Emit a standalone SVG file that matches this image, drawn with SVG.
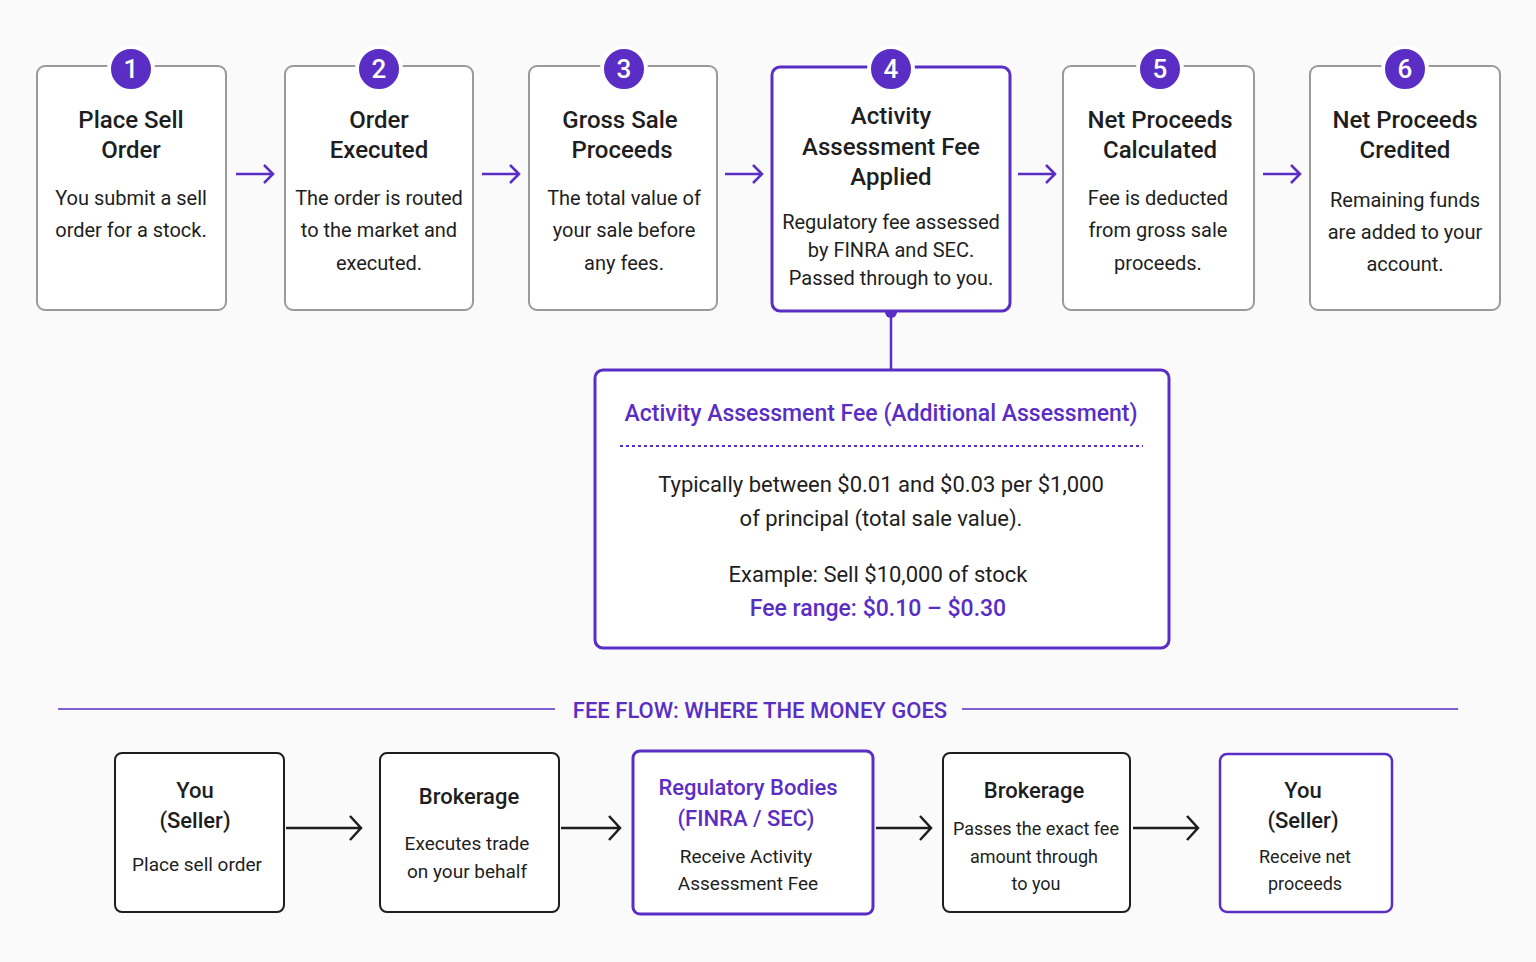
<svg xmlns="http://www.w3.org/2000/svg" width="1536" height="962" viewBox="0 0 1536 962">
<style>
text{font-family:Roboto,"Liberation Sans",sans-serif;fill:#1e1e1e;text-anchor:middle}
.box{fill:#fff;stroke:#9a9a9a;stroke-width:2}
.pbox{fill:#fff;stroke:#5a2ec4;stroke-width:3}
.bbox{fill:#fff;stroke:#1e1e1e;stroke-width:2}
.t{font-size:24px;font-weight:500}
.d{font-size:20px}
.num{fill:#fff;font-size:26px;font-weight:500}
.circ{fill:#5a2ec4;stroke:#fff;stroke-width:4}
.pa{stroke:#5a2ec4;stroke-width:2.5;fill:none}
.ba{stroke:#1e1e1e;stroke-width:2.5;fill:none}
.p{fill:#5a2ec4}
</style>
<rect width="1536" height="962" fill="#fafafa"/>
<g id="connectors">
<path class="pa" d="M236 174h36M264 165l9 9-9 9"/>
<path class="pa" d="M482 174h36M510 165l9 9-9 9"/>
<path class="pa" d="M725 174h36M753 165l9 9-9 9"/>
<path class="pa" d="M1018 174h36M1046 165l9 9-9 9"/>
<path class="pa" d="M1263 174h36M1291 165l9 9-9 9"/>
<path class="pa" d="M891 312v58"/><circle cx="891" cy="312" r="6" class="p"/>
<path class="ba" d="M286 828h74M350 816l11 12-11 12"/>
<path class="ba" d="M561 828h58M609 816l11 12-11 12"/>
<path class="ba" d="M876 828h54M920 816l11 12-11 12"/>
<path class="ba" d="M1133 828h64M1187 816l11 12-11 12"/>
</g>
<g id="n1"><rect class="box" x="37" y="66" width="189" height="244" rx="8"/><circle class="circ" cx="131" cy="69" r="22"/><text class="num" x="131" y="78">1</text>
<text class="t" x="131" y="128">Place Sell</text><text class="t" x="131" y="158">Order</text>
<text class="d" x="131" y="205">You submit a sell</text><text class="d" x="131" y="237">order for a stock.</text></g>
<g id="n2"><rect class="box" x="285" y="66" width="188" height="244" rx="8"/><circle class="circ" cx="379" cy="69" r="22"/><text class="num" x="379" y="78">2</text>
<text class="t" x="379" y="128">Order</text><text class="t" x="379" y="158">Executed</text>
<text class="d" x="379" y="205">The order is routed</text><text class="d" x="379" y="237">to the market and</text><text class="d" x="379" y="270">executed.</text></g>
<g id="n3"><rect class="box" x="529" y="66" width="188" height="244" rx="8"/><circle class="circ" cx="624" cy="69" r="22"/><text class="num" x="624" y="78">3</text>
<text class="t" x="620" y="128">Gross Sale</text><text class="t" x="622" y="158">Proceeds</text>
<text class="d" x="624" y="205">The total value of</text><text class="d" x="624" y="237">your sale before</text><text class="d" x="624" y="270">any fees.</text></g>
<g id="n4"><rect class="pbox" x="772" y="67" width="238" height="244" rx="8"/><circle class="circ" cx="891" cy="69" r="22"/><text class="num" x="891" y="78">4</text>
<text class="t" x="891" y="124">Activity</text><text class="t" x="891" y="155">Assessment Fee</text><text class="t" x="891" y="185">Applied</text>
<text class="d" x="891" y="229">Regulatory fee assessed</text><text class="d" x="891" y="257">by FINRA and SEC.</text><text class="d" x="891" y="285">Passed through to you.</text></g>
<g id="n5"><rect class="box" x="1063" y="66" width="191" height="244" rx="8"/><circle class="circ" cx="1160" cy="69" r="22"/><text class="num" x="1160" y="78">5</text>
<text class="t" x="1160" y="128">Net Proceeds</text><text class="t" x="1160" y="158">Calculated</text>
<text class="d" x="1158" y="205">Fee is deducted</text><text class="d" x="1158" y="237">from gross sale</text><text class="d" x="1158" y="270">proceeds.</text></g>
<g id="n6"><rect class="box" x="1310" y="66" width="190" height="244" rx="8"/><circle class="circ" cx="1405" cy="69" r="22"/><text class="num" x="1405" y="78">6</text>
<text class="t" x="1405" y="128">Net Proceeds</text><text class="t" x="1405" y="158">Credited</text>
<text class="d" x="1405" y="207">Remaining funds</text><text class="d" x="1405" y="239">are added to your</text><text class="d" x="1405" y="271">account.</text></g>
<g id="detail"><rect class="pbox" x="595" y="370" width="574" height="278" rx="8"/>
<text class="t p" x="881" y="421" style="font-size:23px">Activity Assessment Fee (Additional Assessment)</text>
<path d="M620 446H1143" stroke="#5a2ec4" stroke-width="2" stroke-dasharray="3 3"/>
<text class="d" x="881" y="492" style="font-size:22px">Typically between $0.01 and $0.03 per $1,000</text>
<text class="d" x="881" y="526" style="font-size:22px">of principal (total sale value).</text>
<text class="d" x="878" y="582" style="font-size:22px">Example: Sell $10,000 of stock</text>
<text class="t p" x="878" y="616" style="font-size:23px">Fee range: $0.10 – $0.30</text></g>
<g id="section"><path d="M58 709H555M962 709H1458" stroke="#5a2ec4" stroke-width="1.5"/>
<text class="t p" x="760" y="718" style="font-size:22px">FEE FLOW: WHERE THE MONEY GOES</text></g>
<g id="b1"><rect class="bbox" x="115" y="753" width="169" height="159" rx="7"/><text class="t" x="195" y="798" style="font-size:22px">You</text><text class="t" x="195" y="828" style="font-size:22px">(Seller)</text><text class="d" x="197" y="871" style="font-size:19px">Place sell order</text></g>
<g id="b2"><rect class="bbox" x="380" y="753" width="179" height="159" rx="7"/><text class="t" x="469" y="804" style="font-size:22px">Brokerage</text><text class="d" x="467" y="850" style="font-size:19px">Executes trade</text><text class="d" x="467" y="878" style="font-size:19px">on your behalf</text></g>
<g id="b3"><rect class="pbox" x="633" y="751" width="240" height="163" rx="7"/><text class="t p" x="748" y="795" style="font-size:22px">Regulatory Bodies</text><text class="t p" x="746" y="826" style="font-size:22px">(FINRA / SEC)</text><text class="d" x="746" y="863" style="font-size:19px">Receive Activity</text><text class="d" x="748" y="890" style="font-size:19px">Assessment Fee</text></g>
<g id="b4"><rect class="bbox" x="943" y="753" width="187" height="159" rx="7"/><text class="t" x="1034" y="798" style="font-size:22px">Brokerage</text><text class="d" x="1036" y="835" style="font-size:18px">Passes the exact fee</text><text class="d" x="1034" y="863" style="font-size:18px">amount through</text><text class="d" x="1036" y="890" style="font-size:18px">to you</text></g>
<g id="b5"><rect class="pbox" x="1220" y="754" width="172" height="158" rx="7" style="stroke-width:2.5"/><text class="t" x="1303" y="798" style="font-size:22px">You</text><text class="t" x="1303" y="828" style="font-size:22px">(Seller)</text><text class="d" x="1305" y="863" style="font-size:18px">Receive net</text><text class="d" x="1305" y="890" style="font-size:18px">proceeds</text></g>
</svg>
